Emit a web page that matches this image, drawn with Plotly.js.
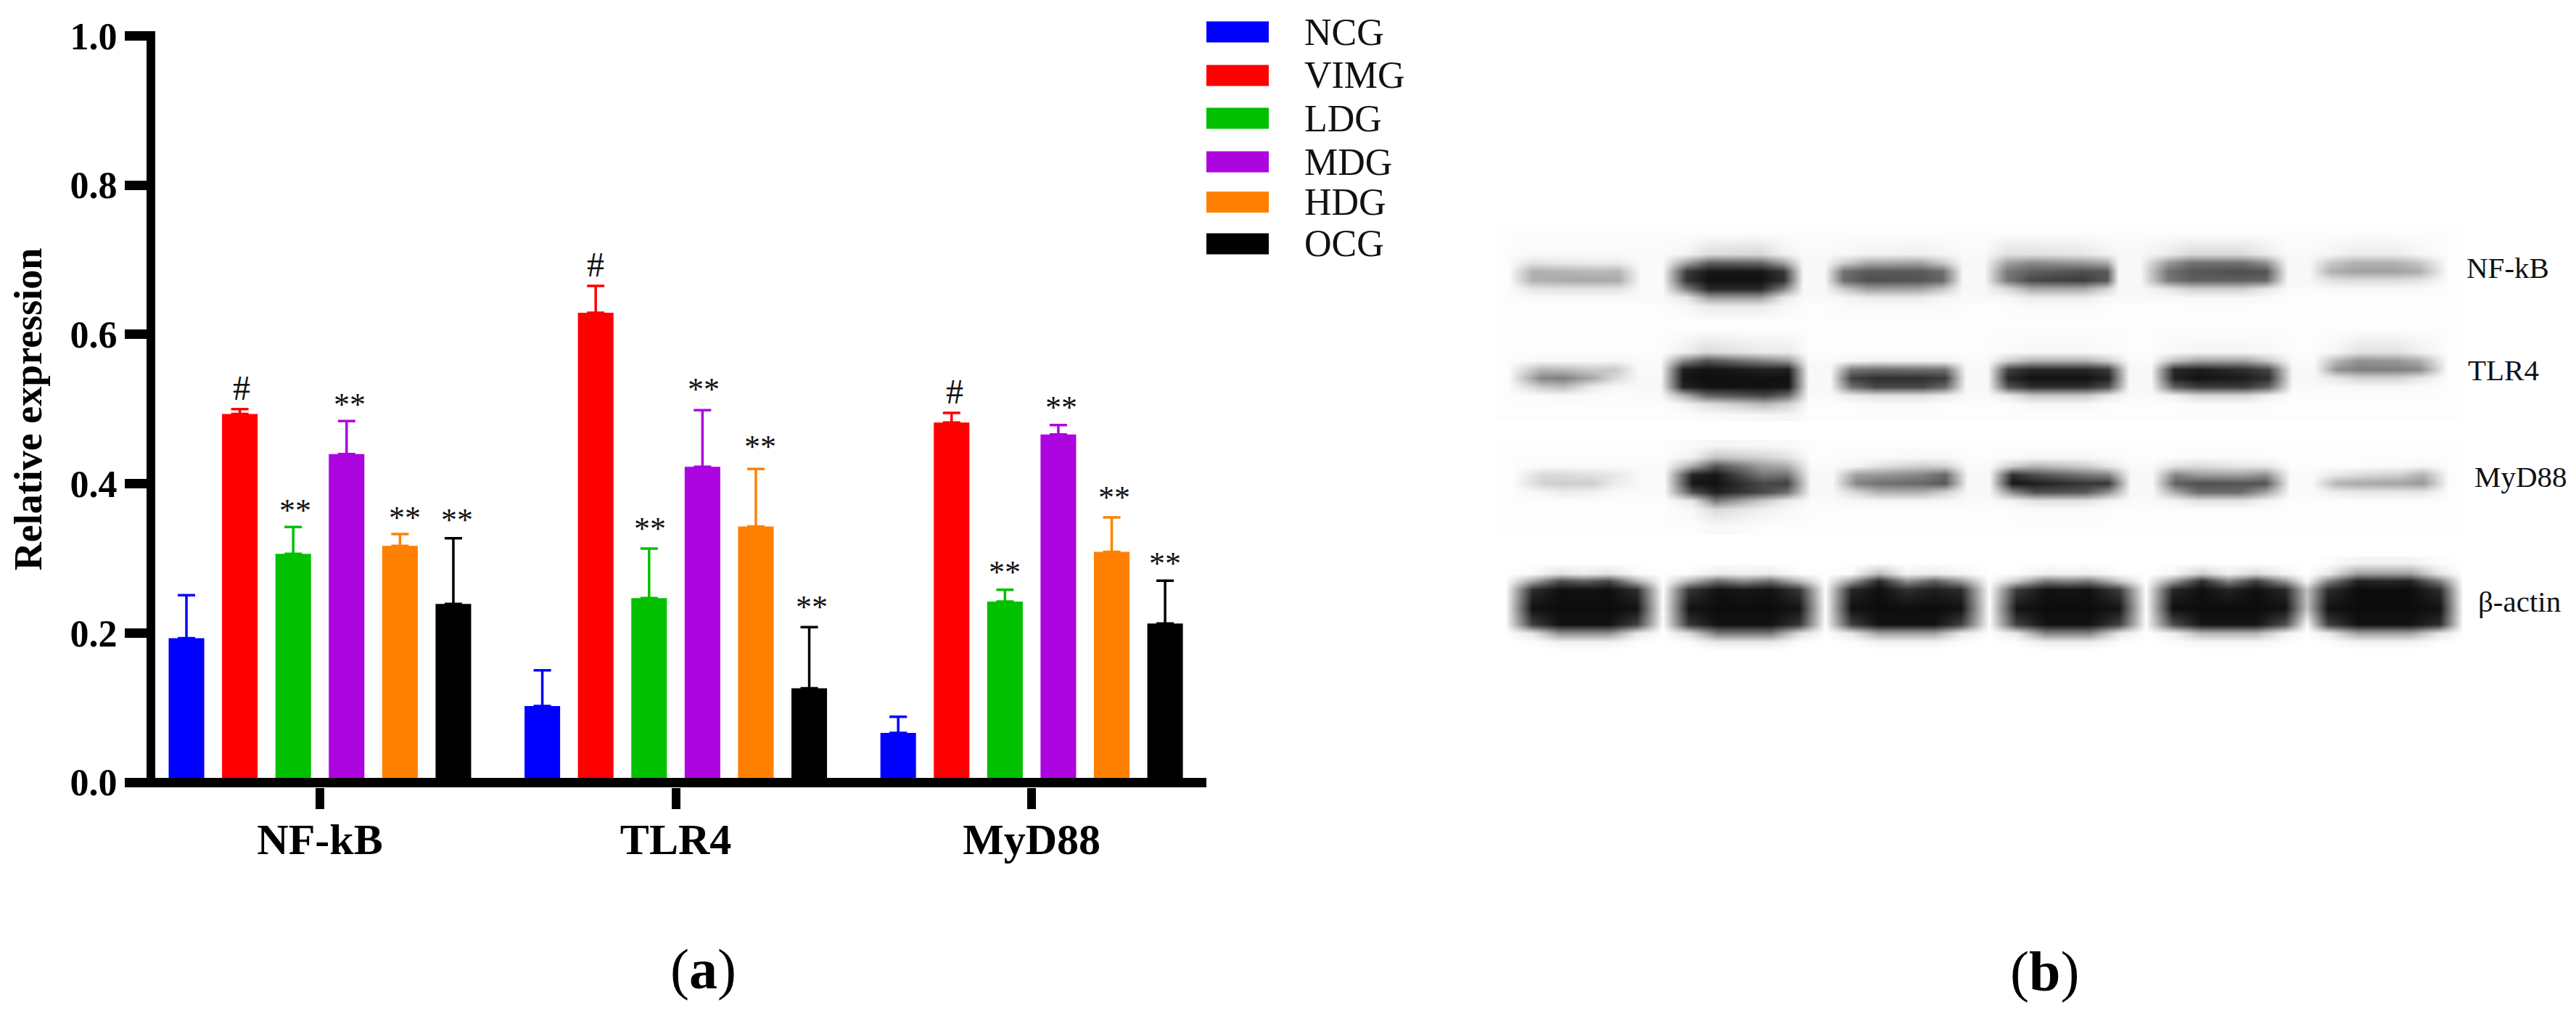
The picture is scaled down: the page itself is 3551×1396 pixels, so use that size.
<!DOCTYPE html>
<html>
<head>
<meta charset="utf-8">
<script src="https://cdn.plot.ly/plotly-3.0.0.min.js"></script>
<style>html,body{margin:0;padding:0;background:#fff}</style>
</head>
<body>
<div id="chart" style="width:3551px;height:1396px"></div>
<script>
// ---------- panel (a) data ----------
const categories = ['NF-kB', 'TLR4', 'MyD88'];
const groups = ['NCG', 'VIMG', 'LDG', 'MDG', 'HDG', 'OCG'];
const colors = ['#0000ff', '#ff0000', '#00c000', '#ad05df', '#ff8000', '#000000'];
const NCG  = [0.193, 0.102, 0.066];
const VIMG = [0.4934, 0.629, 0.482];
const LDG  = [0.306, 0.2466, 0.242];
const MDG  = [0.4396, 0.4227, 0.466];
const HDG  = [0.3167, 0.3428, 0.3088];
const OCG  = [0.239, 0.126, 0.2126];
const NCGerr  = [0.0576, 0.048, 0.0218];
const VIMGerr = [0.0066, 0.036, 0.013];
const LDGerr  = [0.036, 0.0664, 0.016];
const MDGerr  = [0.0444, 0.0759, 0.0126];
const HDGerr  = [0.0158, 0.077, 0.0462];
const OCGerr  = [0.088, 0.0818, 0.0574];
const yTicks = [0, 0.2, 0.4, 0.6, 0.8, 1.0];

// significance marks: label, category position, height
const sigLabels = ['#','**','**','**','**', '#','**','**','**','**', '#','**','**','**','**'];
const sigX = [-0.220,-0.069,0.0836,0.2385,0.385, 0.7746,0.9274,1.078,1.237,1.382, 1.7835,1.924,2.083,2.232,2.3746];
const sigY = [0.528,0.3685,0.5105,0.3588,0.3568, 0.694,0.345,0.531,0.455,0.240, 0.524,0.286,0.5075,0.386,0.298];

// legend rows (page pixels of the key column)
const legendRowY = [44, 104, 163, 223, 278.5, 336];

// ---------- panel (b) blot: darkness 0-100 ----------
const blotX1 = [2079,2112,2140,2200,2230,2276,2324,2356,2426,2458,2500,2541,2575,2645,2677,2720,2766,2800,2870,2904,2935,2989,3020,3090,3123,3168,3212,3245,3300,3333,3374];
const blotY1 = [322,350,362,374,386,398,410,422,442];
const blotZ1 = [
[1,1,1,1,1,1,1,1,1,1,1,1,1,1,1,1,1,1,1,1,1,1,1,1,1,1,1,1,1,1,1],
[1,2,2,2,2,2,4,14,16,6,2,3,5,6,4,2,12,12,10,5,3,8,15,15,8,2,4,8,8,4,1],
[1,12,10,8,8,2,38,65,62,38,3,20,35,38,22,3,38,48,42,35,3,42,58,58,45,3,22,32,32,24,1],
[1,32,32,28,30,2,80,95,95,82,3,58,68,68,60,3,55,65,72,68,3,58,68,72,70,3,32,38,38,34,1],
[1,32,34,36,34,2,82,97,97,85,3,60,72,70,62,3,55,75,80,68,3,55,65,65,62,3,12,15,15,12,1],
[1,10,12,12,12,2,52,88,88,52,3,22,40,38,24,3,15,35,35,18,3,10,20,20,10,2,2,3,3,2,1],
[1,2,2,2,2,2,10,40,40,10,2,4,8,8,4,2,3,8,8,3,2,2,3,3,2,1,1,1,1,1,1],
[1,1,1,1,1,1,3,8,8,3,1,2,2,2,2,1,1,2,2,1,1,1,1,1,1,1,1,1,1,1,1],
[1,1,1,1,1,1,1,1,1,1,1,1,1,1,1,1,1,1,1,1,1,1,1,1,1,1,1,1,1,1,1]];

const blotX2 = [2079,2125,2155,2195,2227,2274,2320,2352,2433,2465,2508,2552,2585,2650,2681,2725,2768,2800,2875,2906,2950,2997,3030,3095,3127,3175,3222,3252,3305,3335,3374];
const blotY2 = [455,485,497,509,521,533,545,557,572];
const blotZ2 = [
[1,1,1,1,1,1,1,1,1,1,1,1,1,1,1,1,1,1,1,1,1,1,1,1,1,1,1,1,1,1,1],
[1,1,1,1,1,1,6,15,8,8,1,1,1,1,1,1,2,3,3,2,1,3,4,4,3,1,4,12,12,6,1],
[1,3,3,3,4,2,48,70,50,42,2,4,6,6,5,2,20,32,32,20,2,26,38,38,22,2,30,45,42,34,1],
[1,30,28,22,22,2,92,97,90,92,3,55,60,58,58,3,78,88,88,80,3,88,92,85,75,3,45,52,52,48,1],
[1,50,52,35,15,3,95,98,97,97,3,78,85,85,80,3,88,97,97,90,3,90,97,92,85,3,10,18,18,10,1],
[1,22,28,8,3,3,90,97,97,96,3,58,75,75,62,3,70,85,85,72,3,65,80,80,65,2,2,3,3,2,1],
[1,2,3,2,1,2,30,62,75,60,2,8,12,12,8,2,8,22,22,9,2,6,16,16,6,1,1,1,1,1,1],
[1,1,1,1,1,1,4,12,28,18,1,1,2,2,1,1,1,3,3,1,1,1,2,2,1,1,1,1,1,1,1],
[1,1,1,1,1,1,1,2,3,4,1,1,1,1,1,1,1,1,1,1,1,1,1,1,1,1,1,1,1,1,1]];

const blotX3 = [2085,2127,2155,2195,2225,2279,2333,2365,2430,2463,2511,2560,2590,2650,2681,2727,2774,2805,2875,2906,2952,2999,3030,3090,3123,3172,3222,3250,3310,3339,3376];
const blotY3 = [614,630,642,654,666,678,690,702,725];
const blotZ3 = [
[1,1,1,1,1,1,2,4,3,3,1,1,1,1,1,1,1,1,1,1,1,1,1,1,1,1,1,1,1,1,1],
[1,1,1,1,1,1,6,25,18,12,1,2,2,3,3,1,2,3,3,2,1,1,2,2,1,1,1,1,1,1,1],
[1,2,2,2,2,2,35,70,40,34,2,4,12,20,18,2,20,30,20,10,2,12,15,10,10,1,1,1,2,4,1],
[1,15,15,12,10,2,90,95,55,58,3,40,42,50,62,3,85,72,55,50,3,50,40,38,45,2,10,14,20,32,1],
[1,18,20,20,8,2,95,97,75,78,3,50,58,62,68,3,95,92,82,82,3,65,72,70,70,2,32,35,38,42,1],
[1,4,8,6,2,2,72,92,75,60,3,18,32,32,20,3,48,72,68,45,3,36,60,60,38,2,8,10,10,10,1],
[1,1,1,1,1,1,10,55,22,8,2,3,4,4,3,2,5,12,12,5,2,5,12,12,5,1,1,1,1,1,1],
[1,1,1,1,1,1,3,15,6,3,1,1,1,1,1,1,1,2,2,1,1,1,1,1,1,1,1,1,1,1,1],
[1,1,1,1,1,1,1,3,1,1,1,1,1,1,1,1,1,1,1,1,1,1,1,1,1,1,1,1,1,1,1]];

const blotX4 = [2075,2112,2150,2184,2218,2256,2292,2328,2368,2404,2440,2480,2516,2552,2590,2628,2666,2703,2742,2780,2820,2850,2880,2921,2958,2995,3035,3072,3110,3150,3180,3209,3250,3286,3322,3363,3395];
const blotY4 = [775,790,800,812,838,860,872,884,895];
const blotZ4 = [
[0, 0,0,0,0,0, 0, 0,0,0,0,0, 0, 0,0,0,0,0, 0, 0,0,0,0,0, 0, 0,0,0,0,0, 0, 1,5,5,5,1, 0],
[0, 2,12,8,12,2, 0, 1,8,6,8,1, 0, 2,28,5,8,4, 0, 1,6,5,6,1, 0, 3,20,6,16,4, 0, 8,40,40,40,10, 0],
[0, 35,72,65,75,32, 0, 30,60,48,60,28, 0, 40,88,45,65,42, 0, 22,55,50,55,22, 0, 40,85,50,78,42, 2, 50,90,88,90,52, 0],
[0, 85,98,97,98,85, 1, 82,97,95,97,82, 1, 88,98,85,92,86, 1, 80,97,96,97,80, 1, 88,98,90,98,88, 25, 86,99,99,99,86, 0],
[0, 97,99,99,99,97, 1, 96,99,99,99,96, 1, 97,99,99,99,97, 1, 96,99,99,99,96, 1, 98,99,99,99,97, 25, 97,99,99,99,97, 0],
[0, 78,97,97,97,78, 1, 82,97,97,97,82, 1, 78,97,97,97,78, 1, 78,97,97,97,78, 1, 72,96,96,96,72, 2, 78,97,97,97,85, 0],
[0, 10,45,45,45,10, 0, 14,55,55,55,14, 0, 10,38,38,38,10, 0, 10,50,50,50,10, 0, 6,30,30,30,6, 0, 8,38,38,38,10, 0],
[0, 1,6,6,6,1, 0, 1,10,10,10,1, 0, 1,5,5,5,1, 0, 1,8,8,8,1, 0, 1,4,4,4,1, 0, 1,5,5,5,1, 0],
[0, 0,0,0,0,0, 0, 0,0,0,0,0, 0, 0,0,0,0,0, 0, 0,0,0,0,0, 0, 0,0,0,0,0, 0, 0,0,0,0,0, 0]];

const blotLabels = ['NF-kB', 'TLR4', 'MyD88', 'β-actin'];
const blotLabelX = [3400, 3402, 3411, 3416];
const blotLabelY = [369, 510, 657, 829];

// ---------- build ----------
const W = 3551, H = 1396;
const serif = '"Liberation Serif", "Times New Roman", serif';
const series = [NCG, VIMG, LDG, MDG, HDG, OCG];
const errors = [NCGerr, VIMGerr, LDGerr, MDGerr, HDGerr, OCGerr];

const traces = groups.map((g, i) => ({
  type: 'bar', name: g, x: categories, y: series[i], showlegend: false,
  marker: {color: colors[i], line: {width: 0}},
  error_y: {type: 'data', symmetric: false, array: errors[i], arrayminus: [0, 0, 0],
            color: colors[i], thickness: 3.5, width: 12},
  xaxis: 'x', yaxis: 'y', hoverinfo: 'skip'
}));

// each blank column between lanes becomes a flat strip, so lane edges stay tight
const gapCols = [5, 10, 15, 20, 25];
function stripX(x) {
  const out = [];
  x.forEach((v, i) => { if (gapCols.includes(i)) out.push(v - 15, v + 15); else out.push(v); });
  return out;
}
function stripZ(z) {
  return z.map(r => {
    const out = [];
    r.forEach((v, i) => { if (gapCols.includes(i)) out.push(v, v); else out.push(v); });
    return out;
  });
}
[[blotX1, blotY1, blotZ1], [blotX2, blotY2, blotZ2], [blotX3, blotY3, blotZ3]].forEach(b => traces.push({
  type: 'heatmap', x: stripX(b[0]), y: b[1], z: stripZ(b[2]), zmin: 0, zmax: 100, zsmooth: 'best', showscale: false,
  colorscale: [[0, '#ffffff'], [1, '#0a0a0a']], xaxis: 'x2', yaxis: 'y2', hoverinfo: 'skip', showlegend: false
}));
traces.push({
  type: 'heatmap', x: blotX4, y: blotY4, z: blotZ4, zmin: 0, zmax: 100, zsmooth: 'best', showscale: false,
  colorscale: [[0, '#ffffff'], [1, '#0a0a0a']], xaxis: 'x2', yaxis: 'y2', hoverinfo: 'skip', showlegend: false
});

const annotations = [];
sigLabels.forEach((s, i) => annotations.push({
  text: s, x: sigX[i], y: sigY[i], xref: 'x', yref: 'y', showarrow: false,
  xanchor: 'center', yanchor: 'middle', yshift: s === '#' ? 0 : -5,
  font: {family: serif, size: s === '#' ? 48 : 44, color: '#111'}
}));
blotLabels.forEach((s, i) => annotations.push({
  text: s, x: blotLabelX[i], y: blotLabelY[i], xref: 'x2', yref: 'y2', showarrow: false,
  xanchor: 'left', yanchor: 'middle', xshift: -2, font: {family: serif, size: 41, color: '#111'}
}));
annotations.push({text: '(<b>a</b>)', x: 969 / W, y: 1 - 1335 / H, xref: 'paper', yref: 'paper',
  showarrow: false, xanchor: 'center', yanchor: 'middle', font: {family: serif, size: 78, color: '#000'}});
annotations.push({text: '(<b>b</b>)', x: 2818 / W, y: 1 - 1338 / H, xref: 'paper', yref: 'paper',
  showarrow: false, xanchor: 'center', yanchor: 'middle', font: {family: serif, size: 78, color: '#000'}});
groups.forEach((g, i) => annotations.push({
  text: g, x: 1796 / W, y: 1 - legendRowY[i] / H, xref: 'paper', yref: 'paper', showarrow: false,
  xanchor: 'left', yanchor: 'middle', font: {family: serif, size: 52, color: '#111'}
}));
const shapes = groups.map((g, i) => ({
  type: 'rect', xref: 'paper', yref: 'paper', line: {width: 0}, fillcolor: colors[i],
  x0: 1663 / W, x1: 1749 / W, y0: 1 - (legendRowY[i] + 14.5) / H, y1: 1 - (legendRowY[i] - 14.5) / H
}));

const layout = {
  width: W, height: H, margin: {l: 0, r: 0, t: 0, b: 0},
  paper_bgcolor: '#fff', plot_bgcolor: 'rgba(0,0,0,0)', showlegend: false,
  barmode: 'group', bargap: 0.1, bargroupgap: 1 / 3,
  font: {family: serif, color: '#000'},
  xaxis: {
    domain: [214 / W, 1663 / W], type: 'category', range: [-0.4627, 2.491], anchor: 'y',
    showline: false, showgrid: false, zeroline: false, ticks: 'outside', ticklen: 29, tickwidth: 12,
    tickcolor: '#000', ticklabelstandoff: -10, tickfont: {family: serif, size: 60, color: '#000', weight: 'bold'}
  },
  yaxis: {
    domain: [(H - 1085) / H, (H - 43) / H], range: [-0.0068, 1.0063], anchor: 'x',
    showline: true, linewidth: 12, linecolor: '#000', showgrid: false,
    zeroline: true, zerolinewidth: 13, zerolinecolor: '#000', zerolinelayer: 'above traces',
    tickvals: yTicks, ticktext: yTicks.map(v => v.toFixed(1)), ticks: 'outside', ticklen: 30, tickwidth: 13, tickcolor: '#000',
    tickfont: {family: serif, size: 52, color: '#000', weight: 'bold'},
    title: {text: 'Relative expression', font: {family: serif, size: 54, color: '#000', weight: 'bold'}, standoff: 27}
  },
  xaxis2: {domain: [2060 / W, 3420 / W], range: [2060, 3420], anchor: 'y2', visible: false},
  yaxis2: {domain: [(H - 905) / H, (H - 310) / H], range: [905, 310], anchor: 'x2', visible: false},
  shapes: shapes,
  annotations: annotations
};
Plotly.newPlot('chart', traces, layout, {staticPlot: true, displayModeBar: false});
</script>
</body>
</html>
